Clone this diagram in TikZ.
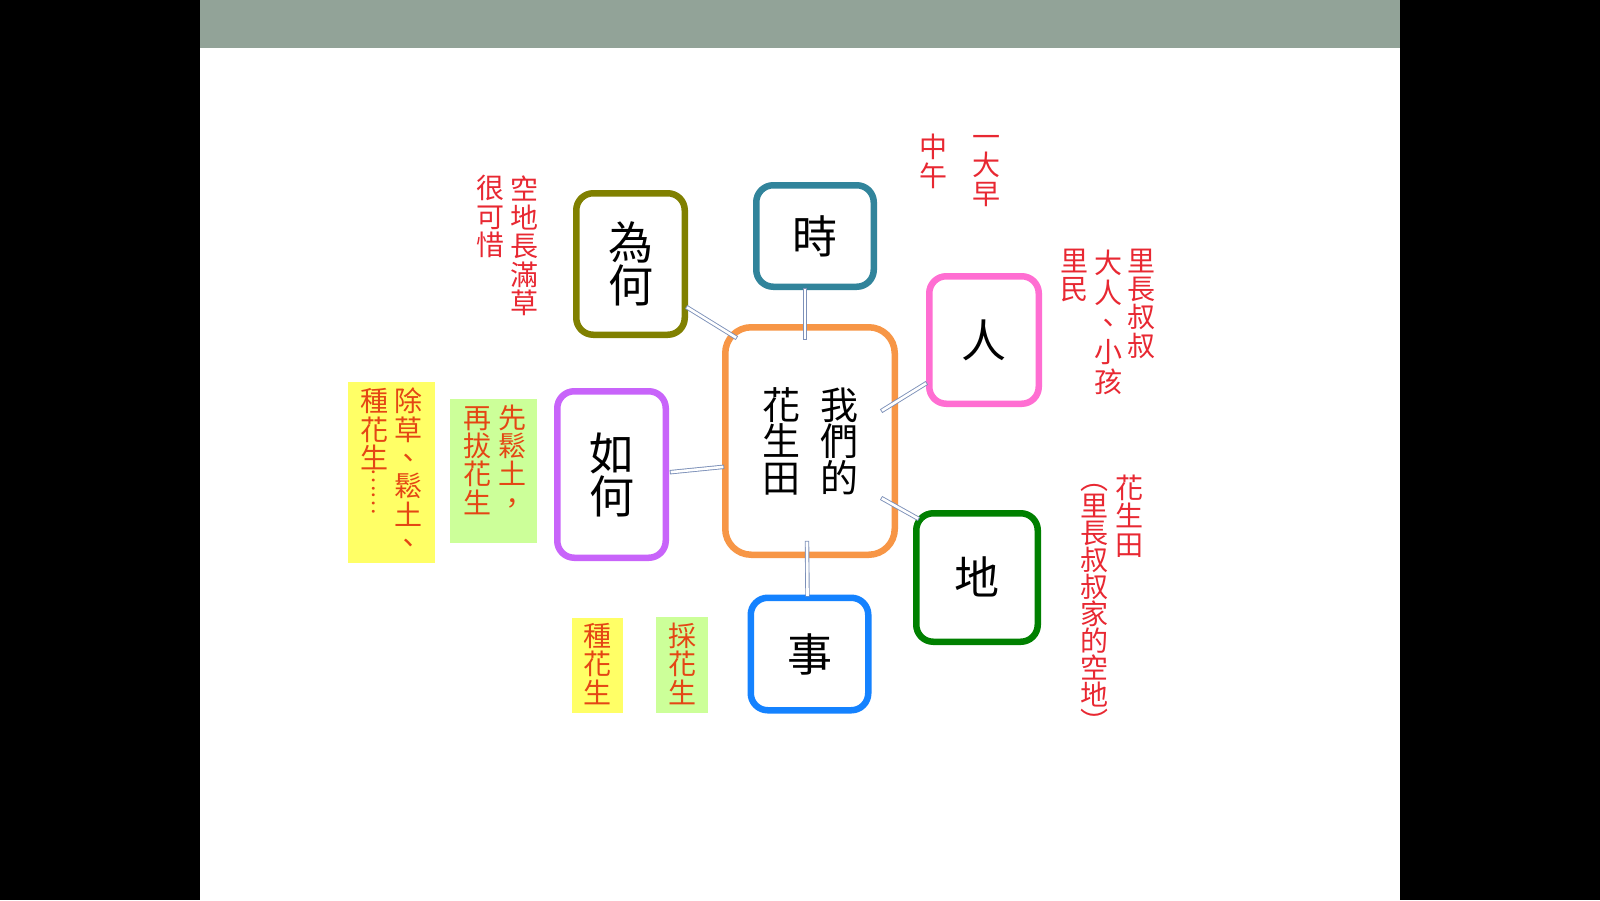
\documentclass[tikz,border=0pt]{standalone}
\usepackage{fontspec}
\usepackage{graphicx}
\setmainfont{Noto Sans CJK TC}
\definecolor{barc}{RGB}{146,163,152}
\definecolor{olivec}{RGB}{128,128,0}
\definecolor{tealc}{RGB}{49,132,155}
\definecolor{pinkc}{RGB}{255,110,210}
\definecolor{orangec}{RGB}{247,150,70}
\definecolor{purplec}{RGB}{200,100,250}
\definecolor{greenc}{RGB}{0,128,0}
\definecolor{bluec}{RGB}{20,130,255}
\definecolor{redc}{RGB}{232,40,50}
\definecolor{orc}{RGB}{228,70,20}
\definecolor{yelc}{RGB}{255,255,102}
\definecolor{lgreenc}{RGB}{204,255,153}
\definecolor{connc}{RGB}{125,145,185}
\newcommand\cjkstrut{\rule[-0.12em]{0pt}{1em}}
\newcommand\bigf{\fontsize{45}{43}\selectfont\lineskiplimit=-100pt\relax}
\newcommand\midf{\fontsize{38}{36.5}\selectfont\lineskiplimit=-100pt\relax}
\newcommand\smf{\fontsize{28}{28.4}\selectfont\lineskiplimit=-100pt\relax}
\newcommand\smfw{\fontsize{28}{29.6}\selectfont\lineskiplimit=-100pt\relax}
\newcommand\smfn{\fontsize{28}{27}\selectfont\lineskiplimit=-100pt\relax}
\newcommand\dotf{\fontsize{22}{22}\selectfont\relax}
\tikzset{
  box/.style={draw, line width=6.5pt, rounded corners=17pt, fill=white, inner sep=0pt, align=center, font=\bigf, text=black},
  rtxt/.style={text=redc, inner sep=0pt, align=center, font=\smf},
  otxt/.style={text=orc, inner sep=0pt, align=center, font=\smf},
  ctxt/.style={text=black, inner sep=0pt, align=center, font=\midf},
  note/.style={inner sep=0pt, draw=none},
  conn/.style={draw=connc, double=white, double distance=2.6pt, line width=0.9pt, line cap=rect},
}
\begin{document}
\begin{tikzpicture}[x=1pt,y=-1pt]
\useasboundingbox (0,0) rectangle (1600,900);
\fill[black] (0,0) rectangle (1600,900);
\fill[white] (200,0) rectangle (1400,900);
\fill[barc] (200,0) rectangle (1400,48);

% boxes
\node[box, draw=olivec, minimum width=108.5pt, minimum height=141.5pt] (why) at (630.5,264) {\cjkstrut 為\\何\cjkstrut};
\node[box, draw=tealc, minimum width=117.5pt, minimum height=101.5pt] (when) at (815,236) {\cjkstrut 時};
\node[box, draw=pinkc, minimum width=109.5pt, minimum height=127.5pt] (who) at (984,340) {\cjkstrut 人};
\node[box, draw=orangec, rounded corners=26pt, minimum width=169.5pt, minimum height=227.5pt] (ctr) at (810,441) {};
\node[box, draw=purplec, minimum width=108.5pt, minimum height=166.5pt] (how) at (611.5,474.5) {\cjkstrut 如\\何\cjkstrut};
\node[box, draw=greenc, minimum width=121.5pt, minimum height=128.5pt] (where) at (977,577.5) {\cjkstrut 地};
\node[box, draw=bluec, minimum width=117.5pt, minimum height=112.5pt] (what) at (809.5,654) {\cjkstrut 事};

% centre text
\node[ctxt] (c2) at (781.5,441.5) {\cjkstrut 花\\生\\田\cjkstrut};
\node[ctxt] (c1) at (839.5,441.5) {\cjkstrut 我\\們\\的\cjkstrut};

% connectors
\draw[conn] ([shift={(0,-30)}]why.south east) -- ([shift={(13,13)}]ctr.north west);
\draw[conn] ([shift={(-10,0)}]when.south) -- ([shift={(-5,14)}]ctr.north);
\draw[conn] ([shift={(-1,-23)}]who.south west) -- ([shift={(-15,-31)}]ctr.east);
\draw[conn] ([shift={(4,8)}]where.north west) -- ([shift={(-15,58)}]ctr.east);
\draw[conn] ([shift={(3,-2.5)}]how.east) -- ([shift={(0,26)}]ctr.west);
\draw[conn] ([shift={(-2,0)}]what.north) -- ([shift={(-3,-15)}]ctr.south);

% red notes
\node[rtxt] (r1) at (524,246) {\cjkstrut 空\\地\\長\\滿\\草\cjkstrut};
\node[rtxt] (r2) at (490,216.5) {\cjkstrut 很\\可\\惜\cjkstrut};
\node[rtxt] (r3) at (986,165) {\cjkstrut 一\\大\\早\cjkstrut};
\node[rtxt] (r4) at (933.5,161.5) {\cjkstrut 中\\午\cjkstrut};
\node[rtxt] (r5) at (1141.5,303) {\cjkstrut 里\\長\\叔\\叔\cjkstrut};
\node[rtxt, font=\smfw] (r6) at (1108.5,322.5) {\cjkstrut 大\\人\\、\\小\\孩\cjkstrut};
\node[rtxt] (r7) at (1074,275) {\cjkstrut 里\\民\cjkstrut};
\node[rtxt] (r8) at (1129.5,516) {\cjkstrut 花\\生\\田\cjkstrut};
\node[rtxt, font=\smfn] (r9) at (1094,600) {\cjkstrut ︵\\里\\長\\叔\\叔\\家\\的\\空\\地\\︶\cjkstrut};

% coloured notes
\node[note, fill=yelc, minimum width=87pt, minimum height=181pt] (yb1) at (391.5,472.5) {};
\node[otxt] (y1a) at (408.5,472) {\cjkstrut 除\\草\\、\\鬆\\土\\、\cjkstrut};
\node[otxt] (y1b) at (374,429.5) {\cjkstrut 種\\花\\生\cjkstrut};
\node[otxt, font=\dotf] (y1c) at (374,491.5) {\rotatebox{-90}{……}};
\node[note, fill=lgreenc, minimum width=87pt, minimum height=144pt] (gb1) at (493.5,471) {};
\node[otxt] (g1a) at (512,460) {\cjkstrut 先\\鬆\\土\\，\cjkstrut};
\node[otxt] (g1b) at (477,460) {\cjkstrut 再\\拔\\花\\生\cjkstrut};
\node[note, fill=yelc, minimum width=51pt, minimum height=95pt] (yb2) at (597.5,665.5) {};
\node[otxt] (y2) at (597.5,664) {\cjkstrut 種\\花\\生\cjkstrut};
\node[note, fill=lgreenc, minimum width=52pt, minimum height=96pt] (gb2) at (682,665) {};
\node[otxt] (g2) at (682,664) {\cjkstrut 採\\花\\生\cjkstrut};
\end{tikzpicture}
\end{document}
